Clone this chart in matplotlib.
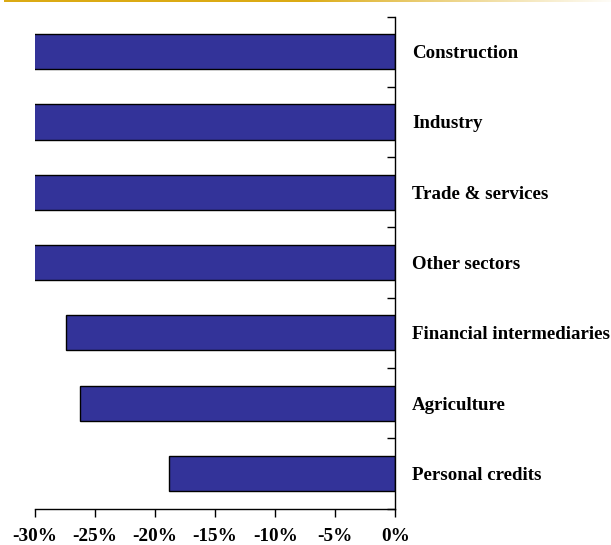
import numpy as np
import matplotlib.pyplot as plt
from matplotlib.ticker import FixedLocator

plt.rcParams['font.family'] = ['Liberation Serif', 'DejaVu Serif']
plt.rcParams['font.weight'] = 'bold'
plt.rcParams['axes.unicode_minus'] = False

# sectors, top to bottom, and change in credit (%)
sectors = ['Construction', 'Industry', 'Trade & services', 'Other sectors',
           'Financial intermediaries', 'Agriculture', 'Personal credits']
changes = [-34.0, -33.0, -32.0, -31.0, -27.4, -26.2, -18.8]
xticks = [-30, -25, -20, -15, -10, -5, 0]
xlabels = ['-30%', '-25%', '-20%', '-15%', '-10%', '-5%', '0%']

fig = plt.figure(figsize=(6.11, 5.45), dpi=100)

# thin gold band along the top edge, fading out to the right
band = fig.add_axes([4 / 611, 1 - 2 / 545, 607 / 611, 2 / 545])
grad = np.linspace(0, 1, 256)
cols = np.zeros((1, 256, 3))
gold = np.array([0.86, 0.67, 0.08])
for i, t in enumerate(grad):
    w = min(1.0, max(0.0, (t - 0.5) / 0.52)) ** 0.9
    cols[0, i] = gold * (1 - w) + np.ones(3) * w
band.imshow(cols, aspect='auto', extent=(0, 1, 0, 1))
band.axis('off')

ax = fig.add_axes([34.6 / 611, 1 - 508.6 / 545, (395.5 - 34.6) / 611, (508.6 - 16.5) / 545])
n = len(sectors)
ypos = np.arange(n)
# bars running past -30% are cut off at the plot edge
ax.barh(ypos, changes, height=0.5, color='#333399',
        edgecolor='black', linewidth=1.0)
ax.set_xlim(-30, 0)
ax.set_ylim(n - 0.5, -0.5)

ax.spines['left'].set_visible(False)
ax.spines['top'].set_visible(False)
ax.spines['right'].set_linewidth(1.0)
ax.spines['bottom'].set_linewidth(1.0)

ax.set_xticks(xticks)
ax.set_xticklabels(xlabels, fontsize=13.8, fontweight='bold')
ax.tick_params(axis='x', direction='out', length=6, width=1, pad=8)

# category boundaries as major ticks, names on minor ticks
ax.yaxis.set_major_locator(FixedLocator(np.arange(-0.5, n, 1.0)))
ax.yaxis.set_minor_locator(FixedLocator(ypos))
ax.yaxis.set_ticks_position('right')
ax.tick_params(axis='y', which='major', direction='in', length=6, width=1,
               labelright=False, labelleft=False)
ax.set_yticks(ypos, minor=True)
ax.set_yticklabels(sectors, minor=True, fontsize=13.6, fontweight='bold')
ax.tick_params(axis='y', which='minor', length=0, pad=12,
               labelright=True, labelleft=False)

fig.savefig('out.png', dpi=100)
